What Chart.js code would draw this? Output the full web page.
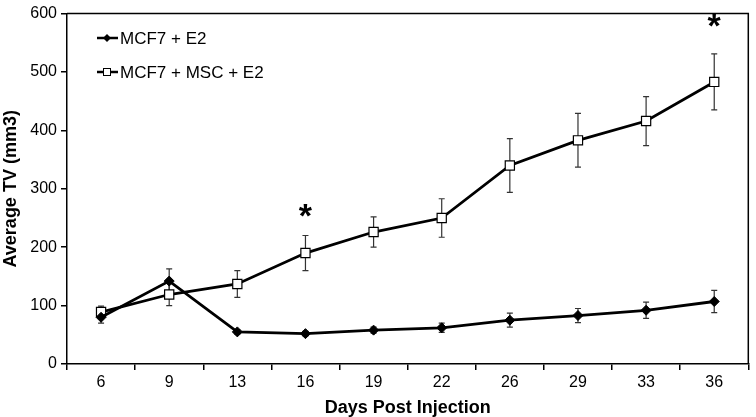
<!DOCTYPE html>
<html>
<head>
<meta charset="utf-8">
<script src="https://cdn.jsdelivr.net/npm/chart.js@4.4.1/dist/chart.umd.min.js"></script>
<style>
html,body{margin:0;padding:0;background:#fff;}
#wrap{width:756px;height:417px;position:relative;}
</style>
</head>
<body>
<div id="wrap"><canvas id="c" width="756" height="417"></canvas></div>
<script>
// days post injection
const days=['6','9','13','16','19','22','26','29','33','36'];
// MCF7 + E2
const e2Mean=[80,142,55,52,58,62,75,83,92,107];
const e2Err=[10,21,4,4,5,8,12,12,14,19];
// MCF7 + MSC + E2
const mscMean=[89,119,137,190,226,250,340,383,416,483];
const mscErr=[10,19,23,30,26,33,46,46,42,48];
// significance marks (category, y value)
const starAt=[['16',265],['36',590]];
const yTicks=[0,100,200,300,400,500,600];

const F='"Liberation Sans", Arial, sans-serif';

const errorBars={
    id:'errorBars',
    beforeDatasetsDraw(chart){
        const ctx=chart.ctx,x=chart.scales.x,y=chart.scales.y;
        const sets=[[e2Mean,e2Err],[mscMean,mscErr]];
        ctx.save();ctx.strokeStyle='#333';ctx.lineWidth=1.2;
        sets.forEach(([m,e])=>{
            m.forEach((v,i)=>{
                const px=x.getPixelForValue(i),t=y.getPixelForValue(v+e[i]),b=y.getPixelForValue(v-e[i]);
                ctx.beginPath();
                ctx.moveTo(px,t);ctx.lineTo(px,b);
                ctx.moveTo(px-3,t);ctx.lineTo(px+3,t);
                ctx.moveTo(px-3,b);ctx.lineTo(px+3,b);
                ctx.stroke();
            });
        });
        ctx.restore();
    }
};

const extras={
    id:'extras',
    afterDraw(chart){
        const ctx=chart.ctx,a=chart.chartArea,x=chart.scales.x,y=chart.scales.y;
        ctx.save();
        // frame top + right
        ctx.strokeStyle='#000';ctx.lineWidth=1.5;
        ctx.beginPath();ctx.moveTo(a.left,a.top);ctx.lineTo(a.right,a.top);ctx.lineTo(a.right,a.bottom);ctx.stroke();
        // asterisks
        ctx.fillStyle='#000';ctx.font='bold 34px '+F;ctx.textAlign='center';ctx.textBaseline='middle';
        starAt.forEach(([d,v])=>{ctx.fillText('*',x.getPixelForValue(days.indexOf(d)),y.getPixelForValue(v)+8);});
        // legend
        const items=[['MCF7 + E2','rectRot'],['MCF7 + MSC + E2','rect']];
        items.forEach(([label,st],i)=>{
            const ly=38+i*34;
            ctx.strokeStyle='#000';ctx.lineWidth=2.5;
            ctx.beginPath();ctx.moveTo(97,ly);ctx.lineTo(118,ly);ctx.stroke();
            if(st==='rectRot'){
                ctx.fillStyle='#000';ctx.beginPath();
                ctx.moveTo(107,ly-4);ctx.lineTo(111,ly);ctx.lineTo(107,ly+4);ctx.lineTo(103,ly);ctx.closePath();ctx.fill();
            }else{
                ctx.fillStyle='#fff';ctx.lineWidth=1;
                ctx.fillRect(103,ly-4,8,8);ctx.strokeRect(103.5,ly-3.5,7,7);
            }
            ctx.fillStyle='#000';ctx.font='17px '+F;ctx.textAlign='left';ctx.textBaseline='middle';
            ctx.fillText(label,120,ly+1);
        });
        ctx.restore();
    }
};

new Chart(document.getElementById('c'),{
    type:'line',
    data:{labels:days,datasets:[
        {label:'MCF7 + E2',data:e2Mean,borderColor:'#000',borderWidth:2.8,pointStyle:'rectRot',pointRadius:5,pointBackgroundColor:'#000',pointBorderColor:'#000',pointBorderWidth:1,tension:0},
        {label:'MCF7 + MSC + E2',data:mscMean,borderColor:'#000',borderWidth:2.8,pointStyle:'rect',pointRadius:6.5,pointBackgroundColor:'#fff',pointBorderColor:'#000',pointBorderWidth:1.2,tension:0}
    ]},
    options:{
        responsive:false,animation:false,
        layout:{padding:{top:6,right:2,left:0,bottom:0}},
        plugins:{legend:{display:false},tooltip:{enabled:false}},
        scales:{
            x:{offset:true,
                grid:{offset:true,drawOnChartArea:false,drawTicks:true,tickLength:6,color:'#000',lineWidth:1.5},
                border:{color:'#000',width:1.5},
                ticks:{color:'#000',font:{family:F,size:16},padding:3},
                title:{display:true,text:'Days Post Injection',color:'#000',font:{family:F,size:18,weight:'bold'},padding:{top:0,bottom:-2}},
                afterFit(s){s.height=53;}
            },
            y:{min:0,max:600,
                afterBuildTicks(s){s.ticks=yTicks.map(v=>({value:v}));},
                grid:{drawOnChartArea:false,drawTicks:true,tickLength:6,color:'#000',lineWidth:1.5},
                border:{color:'#000',width:1.5},
                ticks:{color:'#000',font:{family:F,size:16},padding:4},
                title:{display:true,text:'Average TV (mm3)',color:'#000',font:{family:F,size:18,weight:'bold'},padding:{top:0,bottom:2}},
                afterFit(s){s.width=67;}
            }
        }
    },
    plugins:[errorBars,extras]
});
</script>
</body>
</html>
